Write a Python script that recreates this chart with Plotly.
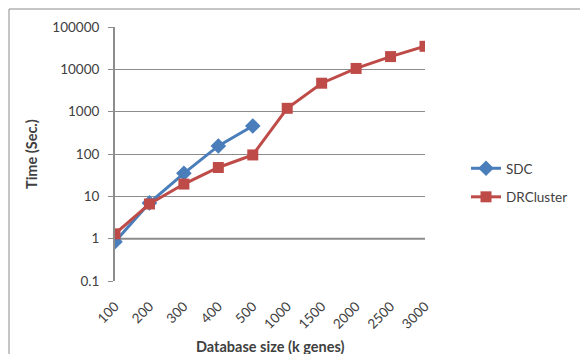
import plotly.graph_objects as go

categories = ["100", "200", "300", "400", "500", "1000", "1500", "2000", "2500", "3000"]
sdc = [0.85, 7, 35, 155, 460, None, None, None, None, None]
drcluster = [1.3, 6.6, 19.5, 48, 95, 1200, 4700, 10500, 20000, 35000]
y_ticks = [0.1, 1, 10, 100, 1000, 10000, 100000]
y_ticktext = ["0.1", "1", "10", "100", "1000", "10000", "100000"]

FONT = "Lato, 'Open Sans', sans-serif"
TXT = "#404040"
GRID = "#8c8c8c"

L, R, T, B = 115, 425, 27, 281
W, H = 580, 354

fig = go.Figure()
fig.add_trace(go.Scatter(
    x=categories, y=sdc, name="SDC", mode="lines+markers", legendgroup="a",
    line=dict(color="#4a7ebb", width=3),
    marker=dict(symbol="diamond", size=12, color="#4a7ebb"),
))
fig.add_trace(go.Scatter(
    x=categories, y=drcluster, name="DRCluster", mode="lines+markers", legendgroup="b",
    line=dict(color="#be4b48", width=3),
    marker=dict(symbol="square", size=11, color="#be4b48"),
))

pw, ph = R - L, B - T
def px(x):
    return (x - L) / pw
def py(y):
    return (B - y) / ph

fig.update_layout(
    width=W, height=H,
    margin=dict(l=L, r=W - R, t=T, b=H - B, pad=0, autoexpand=False),
    paper_bgcolor="white", plot_bgcolor="white",
    font=dict(family=FONT, size=13.5, color=TXT),
    showlegend=True,
    legend=dict(x=px(466), y=py(153), xanchor="left", yanchor="top",
                font=dict(size=13.5, color=TXT), tracegroupgap=8,
                bgcolor="rgba(0,0,0,0)", itemwidth=30),
    xaxis=dict(type="category", categoryorder="array", categoryarray=categories,
               range=[0, 9], showgrid=False, showline=False, zeroline=False,
               tickangle=-45, ticks="", tickfont=dict(size=13.5, color=TXT),
               automargin=False, ticklabelstandoff=14),
    yaxis=dict(type="log", range=[-1, 5], tickvals=y_ticks, ticktext=y_ticktext,
               showgrid=True, gridcolor=GRID, gridwidth=1, showline=True,
               linecolor=GRID, linewidth=2, ticks="outside", ticklen=5,
               tickcolor=GRID, tickfont=dict(size=13.5, color=TXT), zeroline=False,
               automargin=False, ticklabelstandoff=6),
    annotations=[
        dict(text="<b>Database size (k genes)</b>", xref="paper", yref="paper",
             x=px(270), y=py(346), xanchor="center", yanchor="middle",
             showarrow=False, font=dict(size=14.5, color=TXT)),
        dict(text="<b>Time (Sec.)</b>", xref="paper", yref="paper",
             x=px(31), y=py(154), xanchor="center", yanchor="middle",
             textangle=-90, showarrow=False, font=dict(size=14.5, color=TXT)),
    ],
    shapes=[
        dict(type="rect", xref="paper", yref="paper",
             x0=px(9), x1=px(600), y0=py(380), y1=py(9),
             line=dict(color="#8c8c8c", width=1), layer="below"),
        dict(type="line", xref="paper", yref="y", x0=0, x1=1, y0=1, y1=1,
             line=dict(color=GRID, width=2), layer="below"),
    ],
)

fig.write_html("out.html", config={"displayModeBar": False},
               post_script="document.body.style.margin='0';document.body.style.padding='0';")
